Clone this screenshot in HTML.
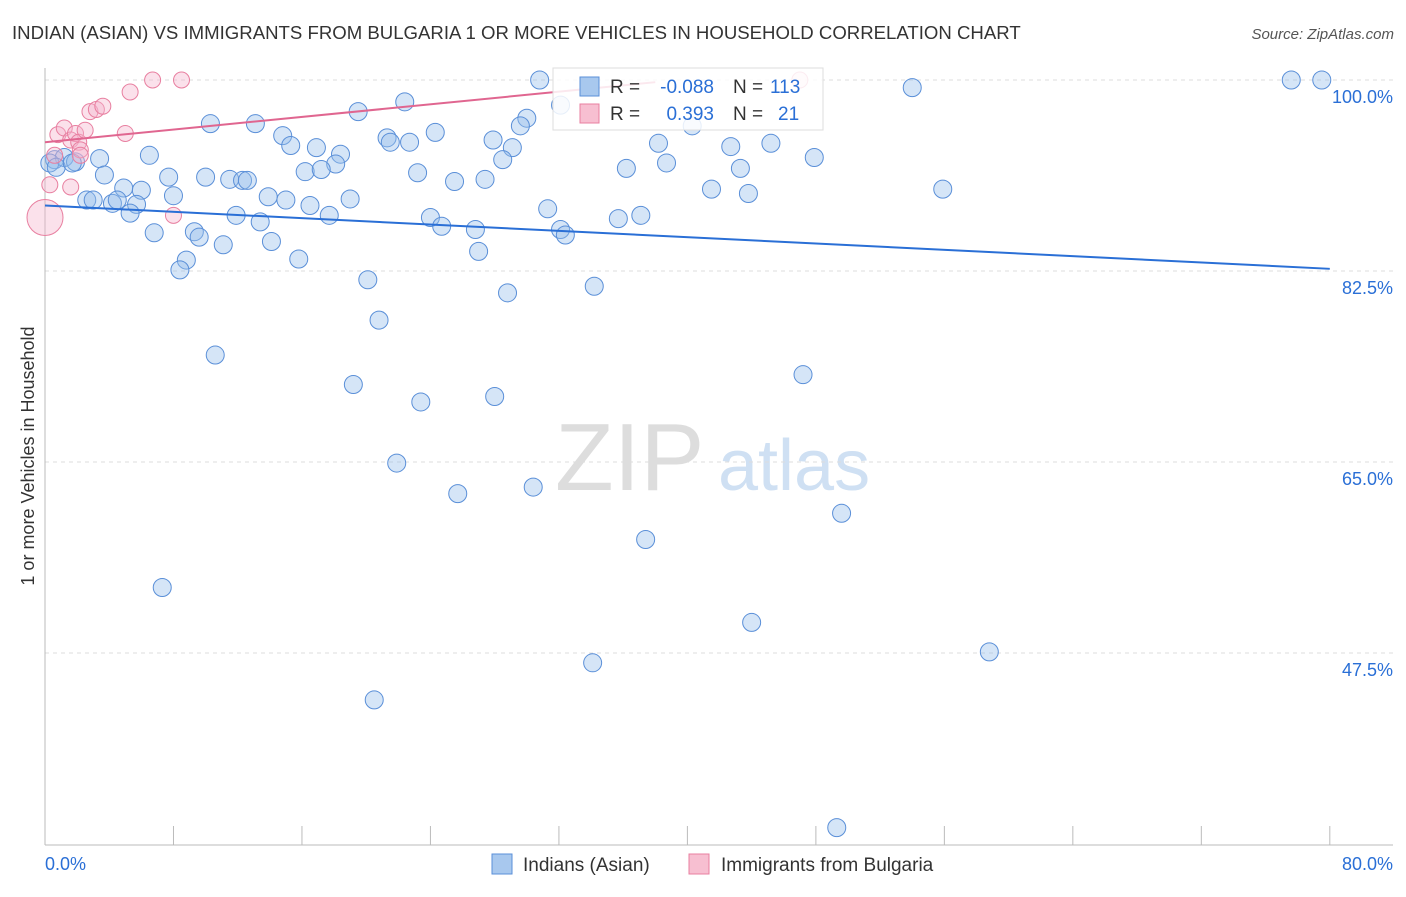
<!DOCTYPE html>
<html><head><meta charset="utf-8">
<style>
body{margin:0;background:#fff;font-family:"Liberation Sans",sans-serif;}
svg text{font-family:"Liberation Sans",sans-serif;}
</style></head>
<body>
<svg id="chart" width="1406" height="892" xmlns="http://www.w3.org/2000/svg">
<text x="12" y="39" font-size="18.6" fill="#333">INDIAN (ASIAN) VS IMMIGRANTS FROM BULGARIA 1 OR MORE VEHICLES IN HOUSEHOLD CORRELATION CHART</text>
<text x="1394" y="39" font-size="15" fill="#555" text-anchor="end" font-style="italic">Source: ZipAtlas.com</text>
<text transform="translate(34,456) rotate(-90)" font-size="18" fill="#333" text-anchor="middle">1 or more Vehicles in Household</text>
<g>
<text x="555" y="490" font-size="96" fill="#ddd" font-family="Liberation Serif">ZIP</text>
<text x="718" y="490" font-size="72" fill="#cfe0f3">atlas</text>
</g>
<g id="grid"></g>
<g id="pts"></g>
<g id="trend"></g>
<g>
<rect x="553" y="68" width="270" height="62" fill="#fff" fill-opacity="0.85" stroke="#ddd"/>
<rect x="580" y="77" width="19" height="19" fill="#a8c8ee" stroke="#5a8fd8"/>
<rect x="580" y="104" width="19" height="19" fill="#f7bfd1" stroke="#e87fa0"/>
<text x="610" y="93" font-size="19" fill="#333">R =</text>
<text x="714" y="93" font-size="19" fill="#2a6fd6" text-anchor="end">-0.088</text>
<text x="733" y="93" font-size="19" fill="#333">N =</text>
<text x="770" y="93" font-size="19" fill="#2a6fd6">113</text>
<text x="610" y="120" font-size="19" fill="#333">R =</text>
<text x="714" y="120" font-size="19" fill="#2a6fd6" text-anchor="end">0.393</text>
<text x="733" y="120" font-size="19" fill="#333">N =</text>
<text x="778" y="120" font-size="19" fill="#2a6fd6">21</text>
</g>
<g>
<rect x="492" y="854" width="20" height="20" fill="#a8c8ee" stroke="#5a8fd8"/>
<text x="523" y="871" font-size="19" fill="#333">Indians (Asian)</text>
<rect x="689" y="854" width="20" height="20" fill="#f7bfd1" stroke="#e87fa0"/>
<text x="721" y="871" font-size="19" fill="#333">Immigrants from Bulgaria</text>
</g>
</svg>
<script>
const xTicks=[0,80];
const yTicks=[100,82.5,65,47.5];
const blueX=[30.8,77.6,79.5,54.0,22.4,19.5,30.0,29.6,10.3,13.1,14.8,21.3,24.3,27.9,22.7,21.5,15.3,38.2,45.2,42.7,29.1,16.9,18.4,6.5,3.4,0.6,1.2,1.9,47.9,28.5,18.1,38.7,36.2,43.3,16.2,17.2,23.2,3.7,7.7,10.0,11.5,12.3,12.6,27.4,25.5,4.9,6.0,41.5,55.9,43.8,8.0,13.9,19.0,15.0,2.6,3.0,4.2,4.5,5.7,16.5,31.3,5.3,11.9,17.7,24.0,35.7,37.1,13.4,24.7,26.8,32.1,32.4,6.8,9.3,9.6,14.1,11.1,27.0,8.8,15.8,8.4,20.1,34.2,28.8,20.8,10.6,47.2,19.2,28.0,23.4,21.9,25.7,30.4,49.6,37.4,7.3,44.0,58.8,34.1,20.5,49.3,32.1,40.3,0.3,0.7,1.7];
const blueY=[100,100,100,99.3,98.0,97.1,96.5,95.8,96.0,96.0,94.9,94.7,95.2,94.5,94.3,94.3,94.0,94.2,94.2,93.9,93.8,93.8,93.2,93.1,92.8,92.7,92.9,92.5,92.9,92.7,92.3,92.4,91.9,91.9,91.6,91.8,91.5,91.3,91.1,91.1,90.9,90.8,90.8,90.9,90.7,90.1,89.9,90.0,90.0,89.6,89.4,89.3,89.1,89.0,89.0,89.0,88.7,89.0,88.6,88.5,88.2,87.8,87.6,87.6,87.4,87.3,87.6,87.0,86.6,86.3,86.3,85.8,86.0,86.1,85.6,85.2,84.9,84.3,83.5,83.6,82.6,81.7,81.1,80.5,78.0,74.8,73.0,72.1,71.0,70.5,64.9,62.1,62.7,60.3,57.9,53.5,50.3,47.6,46.6,43.2,31.5,97.7,95.8,92.4,92.0,92.4];
const pinkX=[0,0.3,0.8,1.2,1.6,1.9,2.1,2.2,2.5,2.8,3.2,3.6,5.0,5.3,6.7,8.5,8.0,1.6,47.0,2.2,0.6];
const pinkY=[87.4,90.4,95.0,95.6,94.5,95.1,94.3,93.6,95.4,97.1,97.3,97.6,95.1,98.9,100,100,87.6,90.2,100,93.1,93.1];
const blueTrendX=[0,80], blueTrendY=[88.5,82.7];
const pinkTrendX=[0,38], pinkTrendY=[94.3,99.8];
const X=v=>45+v*16.06, Y=v=>80+(100-v)*10.914;
const NS="http://www.w3.org/2000/svg";
function mk(tag,attrs,parent){const e=document.createElementNS(NS,tag);for(const k in attrs)e.setAttribute(k,attrs[k]);document.getElementById(parent).appendChild(e);return e;}
yTicks.forEach(t=>{
 const l=mk('line',{x1:45,x2:1393,y1:Y(t),y2:Y(t),stroke:'#ddd','stroke-dasharray':'4,4'},'grid');
 
 
 const tx=mk('text',{x:1393,y:Y(t)+23,'font-size':18,fill:'#2a6fd6','text-anchor':'end'},'grid');
 tx.textContent=t.toFixed(1)+'%';
 
 
});
const ax=mk('line',{x1:45,x2:45,y1:68,y2:845,stroke:'#bbb'},'grid');


const bx=mk('line',{x1:45,x2:1393,y1:845,y2:845,stroke:'#bbb'},'grid');


for(let i=0;i<=10;i++){const t=mk('line',{x1:X(i*8),x2:X(i*8),y1:826,y2:845,stroke:'#bbb'},'grid');
 
 }
xTicks.forEach((t,i)=>{const tx=mk('text',{x:i?1393:45,y:870,'font-size':18,fill:'#2a6fd6','text-anchor':i?'end':'start'},'grid');
 tx.textContent=t.toFixed(1)+'%';
 
 });
blueX.forEach((v,i)=>{const c=mk('circle',{cx:X(v),cy:Y(blueY[i]),r:9,fill:'rgba(150,190,235,0.4)',stroke:'#5a8fd8','stroke-width':1},'pts');
 
 });
pinkX.forEach((v,i)=>{const c=mk('circle',{cx:X(v),cy:Y(pinkY[i]),r:i==0?18:8,fill:'rgba(245,180,205,0.4)',stroke:'#e87fa0','stroke-width':1},'pts');
 
 });
const bl=mk('line',{x1:X(blueTrendX[0]),y1:Y(blueTrendY[0]),x2:X(blueTrendX[1]),y2:Y(blueTrendY[1]),stroke:'#2a6fd6','stroke-width':2},'trend');


const pl=mk('line',{x1:X(pinkTrendX[0]),y1:Y(pinkTrendY[0]),x2:X(pinkTrendX[1]),y2:Y(pinkTrendY[1]),stroke:'#e06690','stroke-width':2},'trend');


</script>
</body></html>
